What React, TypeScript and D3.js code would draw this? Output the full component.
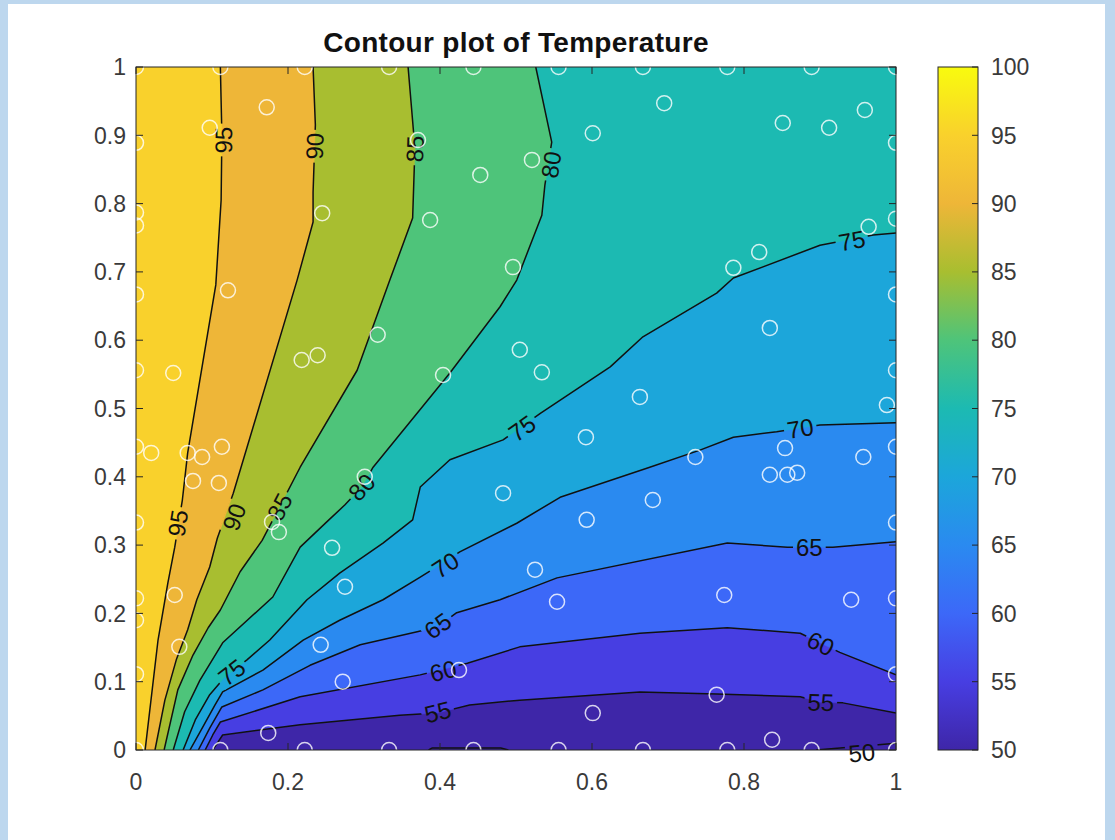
import React from 'react';
import * as d3 from 'd3';

type P = [number, number];

// ---------- data ----------
const xTicks = [0, 0.2, 0.4, 0.6, 0.8, 1];
const yTicks = [0, 0.1, 0.2, 0.3, 0.4, 0.5, 0.6, 0.7, 0.8, 0.9, 1];
const colorbarTicks = [50, 55, 60, 65, 70, 75, 80, 85, 90, 95, 100];
const fillLevels = [55, 60, 65, 70, 75, 80, 85, 90, 95];

const line95: P[] = [[0.012,0],[0.029,0.161],[0.042,0.245],[0.051,0.297],[0.061,0.366],[0.068,0.435],[0.105,0.681],[0.112,0.805],[0.113,0.9],[0.111,1]];
const line90: P[] = [[0.025,0],[0.038,0.073],[0.053,0.132],[0.068,0.176],[0.08,0.22],[0.097,0.268],[0.107,0.31],[0.128,0.376],[0.212,0.688],[0.233,0.773],[0.233,0.817],[0.236,0.915],[0.233,1]];
const line85: P[] = [[0.037,0],[0.055,0.088],[0.075,0.139],[0.095,0.179],[0.111,0.205],[0.137,0.261],[0.166,0.307],[0.189,0.356],[0.216,0.414],[0.291,0.556],[0.334,0.688],[0.364,0.779],[0.367,0.881],[0.358,1]];
const line80: P[] = [[0.049,0],[0.064,0.056],[0.084,0.102],[0.114,0.157],[0.18,0.224],[0.216,0.297],[0.251,0.334],[0.275,0.359],[0.297,0.385],[0.312,0.414],[0.413,0.552],[0.479,0.649],[0.501,0.688],[0.534,0.783],[0.538,0.827],[0.547,0.89],[0.526,1]];
const line75: P[] = [[0.062,0],[0.078,0.044],[0.097,0.081],[0.117,0.107],[0.146,0.132],[0.176,0.161],[0.225,0.22],[0.268,0.259],[0.325,0.303],[0.364,0.337],[0.374,0.385],[0.413,0.425],[0.483,0.454],[0.532,0.493],[0.624,0.561],[0.667,0.605],[0.764,0.669],[0.786,0.691],[0.9,0.739],[0.97,0.754],[1,0.757]];
const line70: P[] = [[0.071,0],[0.088,0.034],[0.104,0.066],[0.114,0.085],[0.167,0.117],[0.22,0.161],[0.268,0.19],[0.325,0.22],[0.374,0.253],[0.404,0.274],[0.426,0.29],[0.501,0.332],[0.558,0.37],[0.676,0.414],[0.742,0.439],[0.786,0.458],[0.843,0.466],[0.9,0.476],[1,0.479]];
const line65: P[] = [[0.082,0],[0.097,0.032],[0.113,0.063],[0.167,0.088],[0.229,0.124],[0.295,0.154],[0.37,0.173],[0.396,0.18],[0.422,0.201],[0.479,0.22],[0.554,0.252],[0.778,0.303],[0.857,0.297],[0.917,0.297],[1,0.305]];
const line60: P[] = [[0.091,0],[0.101,0.022],[0.111,0.041],[0.216,0.078],[0.374,0.11],[0.4,0.117],[0.436,0.127],[0.505,0.151],[0.663,0.171],[0.778,0.179],[0.874,0.171],[0.9,0.157],[0.926,0.143],[1,0.11]];
const line55: P[] = [[0.101,0],[0.108,0.012],[0.114,0.022],[0.216,0.037],[0.347,0.051],[0.396,0.054],[0.439,0.066],[0.505,0.073],[0.663,0.085],[0.764,0.082],[0.874,0.078],[0.9,0.07],[0.93,0.069],[1,0.054]];
const line50a: P[] = [[0.895,0],[0.95,0.005],[1,0.01]];
const line50b: P[] = [[0.385,0],[0.39,0.003],[0.48,0.003],[0.49,0]];

const contourLines: { level: number; points: P[] }[] = [
  { level: 95, points: line95 }, { level: 90, points: line90 }, { level: 85, points: line85 },
  { level: 80, points: line80 }, { level: 75, points: line75 }, { level: 70, points: line70 },
  { level: 65, points: line65 }, { level: 60, points: line60 }, { level: 55, points: line55 },
  { level: 50, points: line50a }, { level: 50, points: line50b },
];

const labelLevels = [95, 90, 85, 80, 95, 90, 85, 80, 75, 75, 75, 70, 70, 65, 65, 60, 60, 55, 55, 50];
const labelX = [0.115, 0.235, 0.367, 0.546, 0.055, 0.129, 0.189, 0.297, 0.126, 0.508, 0.942, 0.407, 0.874, 0.397, 0.886, 0.404, 0.901, 0.397, 0.901, 0.955];
const labelY = [0.893, 0.884, 0.880, 0.857, 0.332, 0.341, 0.356, 0.385, 0.114, 0.471, 0.746, 0.271, 0.471, 0.182, 0.297, 0.116, 0.156, 0.056, 0.070, -0.004];

const sampleX = [
  0, 0.111, 0.222, 0.333, 0.444, 0.556, 0.667, 0.778, 0.889, 1,
  0, 0.111, 0.222, 0.333, 0.444, 0.556, 0.667, 0.778, 0.889, 1,
  0, 0, 0, 0, 0, 0, 0, 0, 0, 0,
  1, 1, 1, 1, 1, 1, 1, 1,
  0.172, 0.097, 0.245, 0.387, 0.453, 0.121, 0.371, 0.496, 0.695, 0.601,
  0.851, 0.912, 0.959, 0.521, 0.786, 0.82, 0.964, 0.318, 0.218, 0.239,
  0.404, 0.049, 0.068, 0.02, 0.087, 0.113, 0.075, 0.109, 0.301, 0.483,
  0.505, 0.534, 0.834, 0.663, 0.592, 0.736, 0.854, 0.834, 0.857, 0.87,
  0.957, 0.988, 0.68, 0.593, 0.188, 0.179, 0.258, 0.275, 0.051, 0.057,
  0.243, 0.272, 0.174, 0.425, 0.525, 0.554, 0.774, 0.941, 0.764, 0.601, 0.837,
];
const sampleY = [
  1, 1, 1, 1, 1, 1, 1, 1, 1, 1,
  0, 0, 0, 0, 0, 0, 0, 0, 0, 0,
  0.111, 0.19, 0.222, 0.333, 0.444, 0.556, 0.667, 0.768, 0.787, 0.889,
  0.111, 0.222, 0.333, 0.444, 0.556, 0.667, 0.778, 0.889,
  0.941, 0.911, 0.786, 0.776, 0.842, 0.673, 0.893, 0.707, 0.947, 0.903,
  0.918, 0.911, 0.937, 0.864, 0.706, 0.729, 0.766, 0.608, 0.571, 0.578,
  0.549, 0.552, 0.435, 0.435, 0.429, 0.444, 0.394, 0.391, 0.4, 0.376,
  0.586, 0.553, 0.618, 0.517, 0.458, 0.429, 0.442, 0.403, 0.403, 0.406,
  0.429, 0.505, 0.366, 0.337, 0.319, 0.334, 0.296, 0.239, 0.227, 0.151,
  0.154, 0.1, 0.025, 0.117, 0.264, 0.217, 0.227, 0.22, 0.081, 0.054, 0.015,
];

// ---------- style ----------
const W = 1115, H = 840;
const PL = 136, PR = 896, PT = 67, PB = 750;
const CBL = 938, CBR = 978;
const FONT = "'Liberation Sans', Arial, Helvetica, sans-serif";
const AXIS = '#262626';
const TICKTXT = '#3a3a3a';
const TICK_FS = 23;
const LABEL_FS = 24;
const parulaAnchors: number[][] = [
  [62, 38, 168], [71, 62, 226], [60, 104, 248], [42, 138, 240], [28, 166, 218],
  [28, 186, 178], [78, 196, 122], [168, 190, 48], [238, 182, 56], [249, 209, 44], [249, 251, 14],
];
function parula(t: number): string {
  const c = Math.max(0, Math.min(1, t)) * (parulaAnchors.length - 1);
  const i = Math.min(parulaAnchors.length - 2, Math.floor(c));
  const f = c - i;
  const a = parulaAnchors[i], b = parulaAnchors[i + 1];
  const m = (k: number) => Math.round(a[k] + (b[k] - a[k]) * f);
  return `rgb(${m(0)},${m(1)},${m(2)})`;
}

function fmtTick(v: number) {
  if (v === 0) return '0';
  if (v === 1) return '1';
  return String(Math.round(v * 10) / 10);
}

export default function App() {
  const x = d3.scaleLinear().domain([0, 1]).range([PL, PR]);
  const y = d3.scaleLinear().domain([0, 1]).range([PB, PT]);
  const cby = d3.scaleLinear().domain([50, 100]).range([PB, PT]);
  const cmap = (v: number) => parula((v - 50) / 50);
  const line = d3.line<P>().x((d) => x(d[0])).y((d) => y(d[1]));

  const regionPath = (pts: P[]) => {
    const end = pts[pts.length - 1];
    const corners: P[] = end[1] >= 0.999 ? [[0, 1], [0, 0]] : [[1, 1], [0, 1], [0, 0]];
    return (line([...pts, ...corners]) || '') + 'Z';
  };

  const labels = labelLevels.map((lv, i) => {
    const px = x(labelX[i]), py = y(labelY[i]);
    let best = Infinity, ang = 0;
    contourLines.filter((c) => c.level === lv).forEach((c) => {
      const pp = c.points.map((p) => [x(p[0]), y(p[1])]);
      for (let k = 0; k < pp.length - 1; k++) {
        const [x1, y1] = pp[k], [x2, y2] = pp[k + 1];
        const dx = x2 - x1, dy = y2 - y1;
        const L2 = dx * dx + dy * dy || 1;
        let t = ((px - x1) * dx + (py - y1) * dy) / L2;
        t = Math.max(0, Math.min(1, t));
        const qx = x1 + t * dx, qy = y1 + t * dy;
        const d = (px - qx) ** 2 + (py - qy) ** 2;
        if (d < best) { best = d; ang = (Math.atan2(dy, dx) * 180) / Math.PI; }
      }
    });
    while (ang >= 90) ang -= 180;
    while (ang < -90) ang += 180;
    const w = String(lv).length * 0.556 * LABEL_FS + 6;
    return { lv, px, py, ang, w };
  });

  const gradStops = d3.range(0, 1.0001, 0.05);

  return (
    <svg width={W} height={H} style={{ position: 'absolute', left: 0, top: 0, background: '#fff' }} fontFamily={FONT}>
      <defs>
        <clipPath id="plotClip"><rect x={PL} y={PT} width={PR - PL} height={PB - PT} /></clipPath>
        <mask id="labelGaps" maskUnits="userSpaceOnUse" x={0} y={0} width={W} height={H}>
          <rect x={0} y={0} width={W} height={H} fill="white" />
          {labels.map((l, i) => (
            <rect key={i} x={-l.w / 2} y={-LABEL_FS * 0.42} width={l.w} height={LABEL_FS * 0.84} fill="black"
              transform={`translate(${l.px},${l.py}) rotate(${l.ang})`} />
          ))}
        </mask>
        <linearGradient id="cbGrad" x1="0" y1="1" x2="0" y2="0">
          {gradStops.map((t, i) => <stop key={i} offset={t} stopColor={parula(t)} />)}
        </linearGradient>
      </defs>

      {/* window frame */}
      <rect x={0} y={0} width={W} height={H} fill="#ffffff" />
      <rect x={0} y={0} width={8} height={H} fill="#bdd7ee" />
      <rect x={0} y={0} width={W} height={4} fill="#bdd7ee" />
      <rect x={1105} y={0} width={10} height={H} fill="#bdd7ee" />

      {/* filled contours */}
      <g clipPath="url(#plotClip)">
        <rect x={PL} y={PT} width={PR - PL} height={PB - PT} fill={cmap(50)} />
        {fillLevels.map((lv) => {
          const c = contourLines.find((cl) => cl.level === lv)!;
          return <path key={lv} d={regionPath(c.points)} fill={cmap(lv)} stroke={cmap(lv)} strokeWidth={0.5} />;
        })}
      </g>

      {/* contour lines with gaps at labels */}
      <g clipPath="url(#plotClip)">
        <g mask="url(#labelGaps)">
          {contourLines.map((c, i) => (
            <path key={i} d={line(c.points) || ''} fill="none" stroke="#111" strokeWidth={1.5} strokeLinejoin="round" />
          ))}
        </g>
      </g>

      {/* contour labels */}
      {labels.map((l, i) => (
        <text key={i} transform={`translate(${l.px},${l.py}) rotate(${l.ang})`} textAnchor="middle" dy="0.36em"
          fontSize={LABEL_FS} fill="#111">{l.lv}</text>
      ))}

      {/* sample points */}
      <g clipPath="url(#plotClip)">
        {sampleX.map((sx, i) => (
          <circle key={i} cx={x(sx)} cy={y(sampleY[i])} r={7.5} fill="none" stroke="#ffffff" strokeOpacity={0.8} strokeWidth={1.5} />
        ))}
      </g>

      {/* axes box and ticks */}
      <rect x={PL} y={PT} width={PR - PL} height={PB - PT} fill="none" stroke={AXIS} strokeWidth={1} />
      {xTicks.map((t) => (
        <g key={'x' + t}>
          <line x1={x(t)} x2={x(t)} y1={PB} y2={PB - 7} stroke={AXIS} />
          <line x1={x(t)} x2={x(t)} y1={PT} y2={PT + 7} stroke={AXIS} />
          <text x={x(t)} y={790} textAnchor="middle" fontSize={TICK_FS} fill={TICKTXT}>{fmtTick(t)}</text>
        </g>
      ))}
      {yTicks.map((t) => (
        <g key={'y' + t}>
          <line x1={PL} x2={PL + 7} y1={y(t)} y2={y(t)} stroke={AXIS} />
          <line x1={PR} x2={PR - 7} y1={y(t)} y2={y(t)} stroke={AXIS} />
          <text x={126} y={y(t)} dy="0.36em" textAnchor="end" fontSize={TICK_FS} fill={TICKTXT}>{fmtTick(t)}</text>
        </g>
      ))}

      {/* title */}
      <text x={(PL + PR) / 2} y={52} textAnchor="middle" fontSize={28} fontWeight="bold" letterSpacing={0.3} fill="#111">Contour plot of Temperature</text>

      {/* colorbar */}
      <rect x={CBL} y={PT} width={CBR - CBL} height={PB - PT} fill="url(#cbGrad)" stroke={AXIS} strokeWidth={1} />
      {colorbarTicks.map((t) => (
        <g key={'c' + t}>
          <line x1={CBR} x2={CBR - 6} y1={cby(t)} y2={cby(t)} stroke={AXIS} />
          <text x={991} y={cby(t)} dy="0.36em" textAnchor="start" fontSize={TICK_FS} fill={TICKTXT}>{t}</text>
        </g>
      ))}
    </svg>
  );
}
